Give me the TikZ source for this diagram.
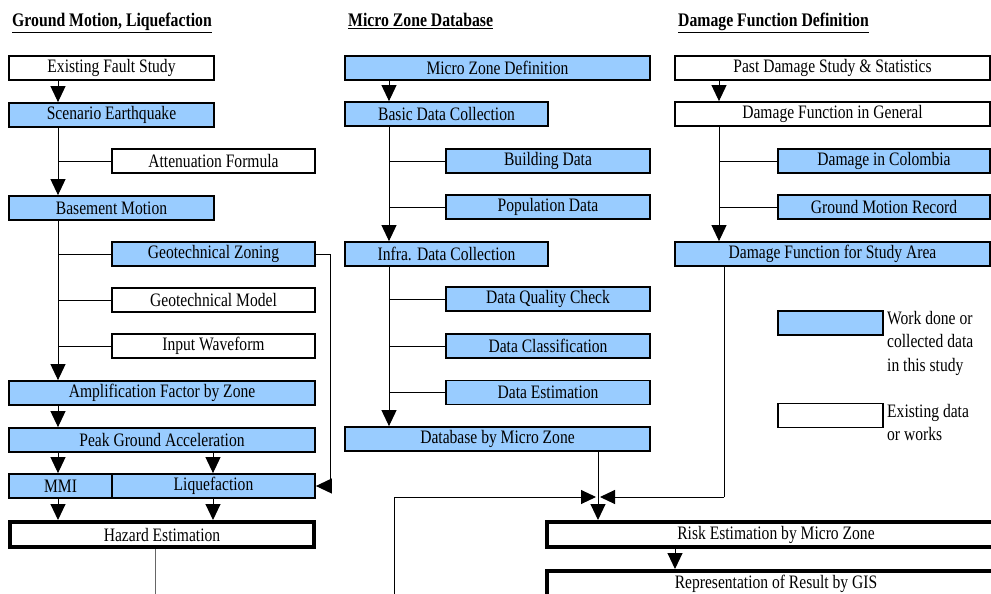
\documentclass[tikz,border=0pt]{standalone}
\usepackage{fontspec}
\setmainfont[FakeStretch=0.82]{Liberation Serif}
\usetikzlibrary{arrows.meta}
\definecolor{wblue}{HTML}{99CCFF}
\tikzset{
  box/.style={draw, line width=1.8pt, inner sep=0pt, minimum height=24pt, font=\fontsize{19}{20}\selectfont},
  bbox/.style={box, fill=wblue},
  wbox/.style={box, fill=white},
  tbox/.style={box, fill=white, line width=4pt, minimum height=25pt},
  ln/.style={draw, line width=1pt},
  arr/.style={ln, -{Triangle[width=15pt,length=16pt]}},
  arrs/.style={ln, -{Triangle[width=14pt,length=15pt]}},
  head/.style={anchor=base west, inner sep=0pt, font=\fontsize{19.2}{20}\selectfont\bfseries},
  legtxt/.style={anchor=north west, inner sep=0pt, align=left, font=\fontsize{19}{23.5}\selectfont}
}
\begin{document}
\begin{tikzpicture}[x=1pt,y=-1pt]
\useasboundingbox (0,0) rectangle (991,594);
\clip (0,0) rectangle (991,594);
\fill[white] (0,0) rectangle (991,594);
% headings
\node[head] (h1) at (12,27) {\underline{Ground Motion, Liquefaction}};
\node[head] (h2) at (348,27) {\underline{Micro Zone Database}};
\node[head] (h3) at (678,27) {\underline{Damage Function Definition}};
% spines
\coordinate (sp1) at (58,0);
\coordinate (sp2) at (213,0);
\coordinate (sp3) at (389,0);
\coordinate (sp4) at (719,0);
% left column
\node[wbox, minimum width=205pt] (efs) at (111.5,68) {Existing Fault Study};
\node[bbox, minimum width=205pt] (se) at (111.5,115) {Scenario Earthquake};
\node[wbox, minimum width=203pt] (att) at (213.5,161) {Attenuation Formula};
\node[bbox, minimum width=205pt] (bm) at (111.5,208) {Basement Motion};
\node[bbox, minimum width=203pt] (gz) at (213.5,254) {Geotechnical Zoning};
\node[wbox, minimum width=203pt] (gm) at (213.5,300) {Geotechnical Model};
\node[wbox, minimum width=203pt] (iw) at (213.5,346) {Input Waveform};
\node[bbox, minimum width=306pt] (af) at (162,393) {Amplification Factor by Zone};
\node[bbox, minimum width=306pt] (pga) at (162,440) {Peak Ground Acceleration};
\node[bbox, minimum width=103pt] (mmi) at (60.5,486) {MMI};
\node[bbox, minimum width=203pt] (liq) at (213.5,486) {Liquefaction};
\node[tbox, minimum width=304pt] (haz) at (162,534.5) {Hazard Estimation};
% middle column
\node[bbox, minimum width=305pt] (mzd) at (497.5,68) {Micro Zone Definition};
\node[bbox, minimum width=203pt] (bdc) at (446.5,114) {Basic Data Collection};
\node[bbox, minimum width=204pt] (bd) at (548,161) {Building Data};
\node[bbox, minimum width=204pt] (pd) at (548,207) {Population Data};
\node[bbox, minimum width=203pt] (idc) at (446.5,254) {Infra. Data Collection};
\node[bbox, minimum width=204pt] (dqc) at (548,299) {Data Quality Check};
\node[bbox, minimum width=204pt] (dc) at (548,346) {Data Classification};
\node[bbox, minimum width=204pt] (de) at (548,392.5) {Data Estimation};
\node[bbox, minimum width=305pt] (dbm) at (497.5,439) {Database by Micro Zone};
% right column
\node[wbox, minimum width=315pt] (pds) at (832.5,68) {Past Damage Study \& Statistics};
\node[wbox, minimum width=315pt] (dfg) at (832.5,114) {Damage Function in General};
\node[bbox, minimum width=212pt] (dic) at (884,161) {Damage in Colombia};
\node[bbox, minimum width=212pt] (gmr) at (884,207) {Ground Motion Record};
\node[bbox, minimum width=315pt] (dfs) at (832.5,254) {Damage Function for Study Area};
% legend
\node[bbox, minimum width=105pt] (lg1) at (830.5,323) {};
\node[wbox, minimum width=105pt] (lg2) at (830.5,415.5) {};
\node[legtxt] (lt1) at (887,311) {Work done or\\collected data\\in this study};
\node[legtxt] (lt2) at (887,404) {Existing data\\or works};
% bottom
\node[tbox, minimum width=458pt] (risk) at (776,534.5) {Risk Estimation by Micro Zone};
\node[tbox, minimum width=458pt] (rep) at (776,583.5) {Representation of Result by GIS};
% connectors left
\draw[arr] (efs.south -| sp1) -- (se.north -| sp1);
\draw[arr] (se.south -| sp1) -- (bm.north -| sp1);
\draw[ln] (att.west) -- (att.west -| sp1);
\draw[arr] (bm.south -| sp1) -- (af.north -| sp1);
\draw[ln] (gz.west) -- (gz.west -| sp1);
\draw[ln] (gm.west) -- (gm.west -| sp1);
\draw[ln] (iw.west) -- (iw.west -| sp1);
\draw[arr] (af.south -| sp1) -- (pga.north -| sp1);
\draw[arr] (pga.south -| sp1) -- (mmi.north -| sp1);
\draw[arr] (pga.south -| sp2) -- (liq.north -| sp2);
\draw[arr] (mmi.south -| sp1) -- (haz.north -| sp1);
\draw[arr] (liq.south -| sp2) -- (haz.north -| sp2);
\coordinate (gzr) at (330,0);
\draw[arr] (gz.east) -- (gz.east -| gzr) -- (gzr |- liq.east) -- (liq.east);
\coordinate (hzb) at (155,594);
\draw[ln, draw=black!60] (haz.south -| hzb) -- (hzb);
% connectors middle
\draw[arr] (mzd.south -| sp3) -- (bdc.north -| sp3);
\draw[arr] (bdc.south -| sp3) -- (idc.north -| sp3);
\draw[ln] (bd.west) -- (bd.west -| sp3);
\draw[ln] (pd.west) -- (pd.west -| sp3);
\draw[arr] (idc.south -| sp3) -- (dbm.north -| sp3);
\draw[ln] (dqc.west) -- (dqc.west -| sp3);
\draw[ln] (dc.west) -- (dc.west -| sp3);
\draw[ln] (de.west) -- (de.west -| sp3);
% connectors right
\draw[arr] (pds.south -| sp4) -- (dfg.north -| sp4);
\draw[arr] (dfg.south -| sp4) -- (dfs.north -| sp4);
\draw[ln] (dic.west) -- (dic.west -| sp4);
\draw[ln] (gmr.west) -- (gmr.west -| sp4);
% merge
\coordinate (mr) at (724,497);
\coordinate (ml) at (394,497);
\coordinate (mlb) at (394,594);
\coordinate (mtip) at (598,497);
\coordinate (mtipL) at (596,497);
\coordinate (mtipR) at (600,497);
\coordinate (rr) at (675,0);
\draw[ln] (dfs.south -| mr) -- (mr);
\draw[arrs] (mr) -- (mtipR);
\draw[arrs] (mlb) -- (ml) -- (mtipL);
\draw[arr] (dbm.south -| mtip) -- (risk.north -| mtip);
\draw[arr] (risk.south -| rr) -- (rep.north -| rr);
\end{tikzpicture}
\end{document}
